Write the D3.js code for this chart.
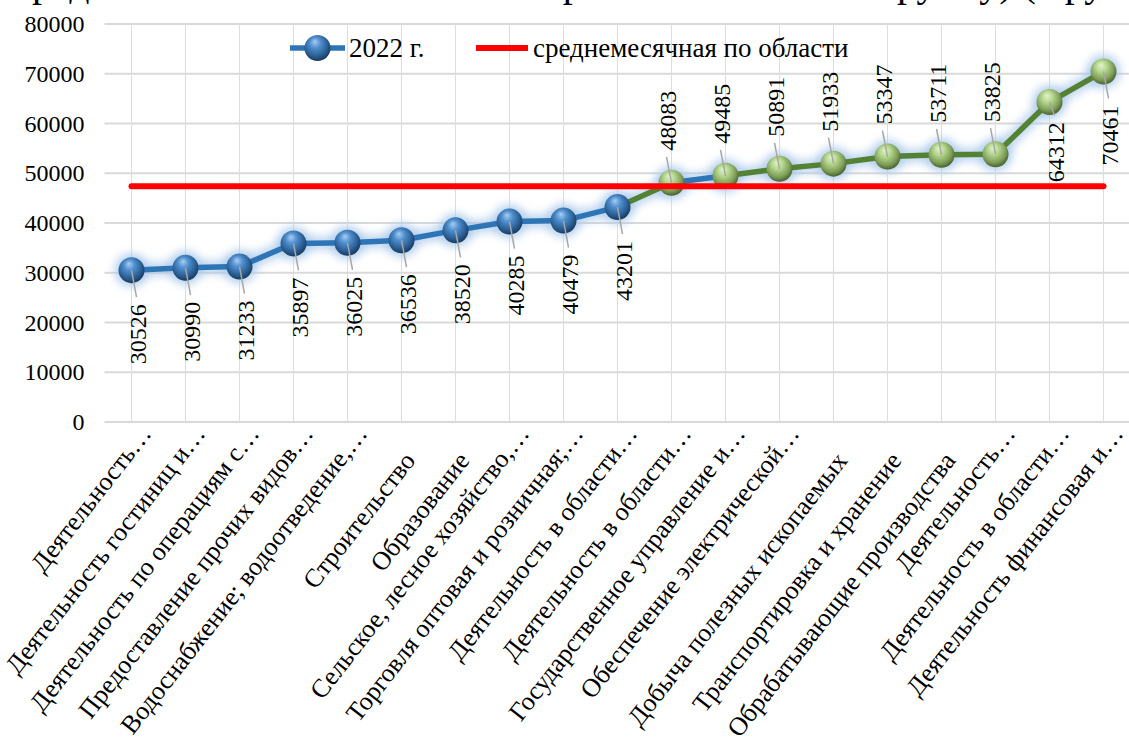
<!DOCTYPE html>
<html lang="ru">
<head>
  <meta charset="UTF-8" />
  <title>Среднемесячная заработная плата по видам деятельности</title>
  <style>
    body { margin: 0; background: #fff; }
    svg { display: block; }
    svg text { font-family: "Times New Roman", "Liberation Serif", "DejaVu Serif", serif; fill: #000; }
  </style>
</head>
<body>
  <svg id="chart" width="1129" height="752"></svg>
  <script src="https://d3js.org/d3.v7.min.js"></script>
  <script>
    // Data
    const categories = [
      "Деятельность…",
      "Деятельность гостиниц и…",
      "Деятельность по операциям с…",
      "Предоставление прочих видов…",
      "Водоснабжение; водоотведение,…",
      "Строительство",
      "Образование",
      "Сельское, лесное хозяйство,…",
      "Торговля оптовая и розничная;…",
      "Деятельность в области…",
      "Деятельность в области…",
      "Государственное управление и…",
      "Обеспечение электрической…",
      "Добыча полезных ископаемых",
      "Транспортировка и хранение",
      "Обрабатывающие производства",
      "Деятельность…",
      "Деятельность в области…",
      "Деятельность финансовая и…"
    ];
    const values = [30526, 30990, 31233, 35897, 36025, 36536, 38520, 40285, 40479, 43201,
                    48083, 49485, 50891, 51933, 53347, 53711, 53825, 64312, 70461];
    // marker colour group for each point
    const pointGroup = ["blue","blue","blue","blue","blue","blue","blue","blue","blue","blue",
                        "green","green","green","green","green","green","green","green","green"];
    // colour group for each line segment (segment i joins point i and i+1)
    const segmentGroup = ["blue","blue","blue","blue","blue","blue","blue","blue","blue",
                          "green","blue","green","green","green","green","green","green","green"];
    // data label side
    const labelSide = ["below","below","below","below","below","below","below","below","below","below",
                       "above","above","above","above","above","above","above","below","below"];
    const averageValue = 47400;
    const yTicks = [0, 10000, 20000, 30000, 40000, 50000, 60000, 70000, 80000];
    const seriesName = "2022 г.";
    const averageName = "среднемесячная по области";
    const titleText = "Среднемесячная номинальная заработная плата по группу) (в рублях)";

    const svg = d3.select("#chart");
    const plot = { left: 104.5, right: 1130.5, top: 24, bottom: 422 };

    const x = d3.scalePoint().domain(d3.range(categories.length))
                .range([plot.left, plot.right]).padding(0.5);
    const y = d3.scaleLinear().domain([0, 80000]).range([plot.bottom, plot.top]);

    const lineColor = { blue: "#2e75b6", green: "#548235" };

    // gradients for the spheres
    const defs = svg.append("defs");
    function sphere(id, stops) {
      const g = defs.append("radialGradient").attr("id", id)
        .attr("cx", "45%").attr("cy", "40%").attr("r", "60%")
        .attr("fx", "40%").attr("fy", "25%");
      stops.forEach(s => g.append("stop").attr("offset", s[0]).attr("stop-color", s[1]));
    }
    sphere("sphBlue", [["0%", "#a9cdf0"], ["35%", "#4f8fce"], ["75%", "#2a5f95"], ["100%", "#1a3a5c"]]);
    sphere("sphGreen", [["0%", "#e4f2cf"], ["35%", "#b5d78e"], ["75%", "#7f9f59"], ["100%", "#4b6330"]]);
    const glow = defs.append("filter").attr("id", "glow")
      .attr("x", "-20%").attr("y", "-20%").attr("width", "140%").attr("height", "140%");
    glow.append("feGaussianBlur").attr("stdDeviation", 4);

    // title (cut off at the top of the picture, as in the original)
    svg.append("text")
      .attr("x", 600).attr("y", -4)
      .attr("text-anchor", "middle")
      .attr("font-size", 40)
      .text(titleText);

    // horizontal gridlines
    svg.append("g").selectAll("line").data(yTicks).join("line")
      .attr("x1", plot.left).attr("x2", plot.right)
      .attr("y1", d => y(d)).attr("y2", d => y(d))
      .attr("stroke", "#d9d9d9").attr("stroke-width", 2);

    // vertical gridlines at category centres
    svg.append("g").selectAll("line").data(d3.range(categories.length)).join("line")
      .attr("x1", d => x(d)).attr("x2", d => x(d))
      .attr("y1", plot.top).attr("y2", plot.bottom)
      .attr("stroke", "#d6deea").attr("stroke-width", 1);

    // y axis labels
    const yAxis = d3.axisLeft(y).tickValues(yTicks).tickSize(0).tickPadding(20)
      .tickFormat(d3.format("d"));
    const ya = svg.append("g").attr("transform", `translate(${plot.left},0)`).call(yAxis)
      .attr("font-family", null).attr("font-size", 24);
    ya.select(".domain").remove();
    ya.selectAll("text").attr("fill", "#000");

    // category labels, rotated
    svg.append("g").selectAll("text").data(categories).join("text")
      .attr("transform", (d, i) => {
        const cut = d.endsWith("…");
        const ax = x(i) + (cut ? 21 : 15);
        const ay = cut ? 434 : 461;
        return `translate(${ax},${ay}) rotate(-52)`;
      })
      .attr("text-anchor", "end")
      .attr("font-size", 26)
      .text(d => d);

    const pts = values.map((v, i) => ({ i, v, cx: x(i), cy: y(v), g: pointGroup[i], side: labelSide[i] }));

    // soft glow under the series
    const lineGen = d3.line().x(d => d.cx).y(d => d.cy);
    svg.append("path").datum(pts)
      .attr("d", lineGen)
      .attr("fill", "none").attr("stroke", "#a8c8ea").attr("stroke-width", 14)
      .attr("stroke-linejoin", "round").attr("opacity", 0.7)
      .attr("filter", "url(#glow)");
    svg.append("g").selectAll("circle").data(pts).join("circle")
      .attr("cx", d => d.cx).attr("cy", d => d.cy).attr("r", 17)
      .attr("fill", "#a8c8ea").attr("opacity", 0.8).attr("filter", "url(#glow)");

    // line segments
    svg.append("g").selectAll("line").data(segmentGroup).join("line")
      .attr("x1", (d, i) => pts[i].cx).attr("y1", (d, i) => pts[i].cy)
      .attr("x2", (d, i) => pts[i + 1].cx).attr("y2", (d, i) => pts[i + 1].cy)
      .attr("stroke", d => lineColor[d]).attr("stroke-width", 5.5)
      .attr("stroke-linecap", "round");

    // markers
    svg.append("g").selectAll("circle").data(pts).join("circle")
      .attr("cx", d => d.cx).attr("cy", d => d.cy).attr("r", 13)
      .attr("fill", d => d.g === "blue" ? "url(#sphBlue)" : "url(#sphGreen)");

    // average line
    const avgY = y(averageValue);
    svg.append("line")
      .attr("x1", x(0)).attr("x2", x(categories.length - 1))
      .attr("y1", avgY).attr("y2", avgY)
      .attr("stroke", "#ff0000").attr("stroke-width", 6).attr("stroke-linecap", "round");

    // data labels, then leader lines to them
    const labels = svg.append("g");
    const leaders = labels.append("g");
    labels.selectAll("text").data(pts).join("text")
      .attr("text-anchor", d => d.side === "below" ? "end" : "start")
      .attr("dy", "0.35em")
      .attr("font-size", 24)
      .text(d => d.v)
      .each(function (d) {
        const len = this.getComputedTextLength();
        if (d.side === "below") {
          let top = d.cy + 34;
          // keep labels above the average line clear of it
          if (d.cy < avgY && top + len > avgY - 4) top = avgY - 4 - len;
          d.lx = d.cx + 6; d.ly = top; d.leadY = top - 7;
        } else {
          d.lx = d.cx - 4; d.ly = d.cy - 32; d.leadY = d.ly + 6;
        }
        d3.select(this).attr("transform", `translate(${d.lx},${d.ly}) rotate(-90)`);
      });
    leaders.selectAll("line").data(pts).join("line")
      .attr("x1", d => d.cx).attr("y1", d => d.cy)
      .attr("x2", d => d.lx - 1).attr("y2", d => d.leadY)
      .attr("stroke", "#a6a6a6").attr("stroke-width", 1.5);

    // legend
    const lg = svg.append("g").attr("font-size", 27);
    lg.append("line").attr("x1", 290).attr("x2", 345).attr("y1", 48).attr("y2", 48)
      .attr("stroke", lineColor.blue).attr("stroke-width", 5.5);
    lg.append("circle").attr("cx", 317.5).attr("cy", 48).attr("r", 13).attr("fill", "url(#sphBlue)");
    lg.append("text").attr("x", 349).attr("y", 48).attr("dy", "0.35em").text(seriesName);
    lg.append("line").attr("x1", 476).attr("x2", 528).attr("y1", 48).attr("y2", 48)
      .attr("stroke", "#ff0000").attr("stroke-width", 6);
    lg.append("text").attr("x", 533).attr("y", 48).attr("dy", "0.35em").text(averageName);
  </script>
</body>
</html>
